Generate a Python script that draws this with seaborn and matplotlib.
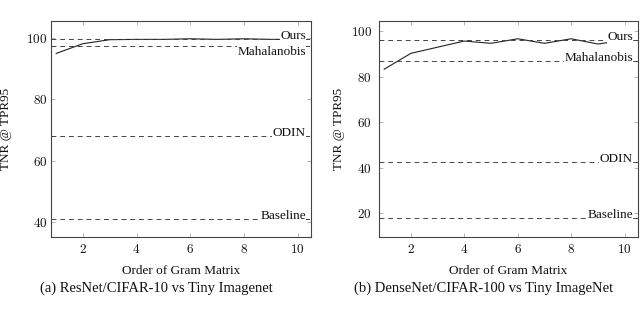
import numpy as np
import pandas as pd
import seaborn as sns
import matplotlib
matplotlib.use("Agg")
import matplotlib.pyplot as plt
import matplotlib.transforms as mtransforms

# gram matrix order on the x axis
orders = [1, 2, 3, 4, 5, 6, 7, 8, 9, 10]

# (a) ResNet / CIFAR-10 vs Tiny Imagenet
resnet_ours = [95.0, 98.2, 99.5, 99.6, 99.6, 99.8, 99.6, 99.8, 99.6, 99.6]
resnet_refs = {"Ours": 99.7, "Mahalanobis": 97.4, "ODIN": 68.0, "Baseline": 41.1}

# (b) DenseNet / CIFAR-100 vs Tiny ImageNet
densenet_ours = [83.2, 90.2, 92.9, 95.6, 94.6, 96.6, 94.6, 96.6, 94.3, 96.0]
densenet_refs = {"Ours": 96.0, "Mahalanobis": 86.7, "ODIN": 42.5, "Baseline": 17.8}

captions = ["(a) ResNet/CIFAR-10 vs Tiny Imagenet",
            "(b) DenseNet/CIFAR-100 vs Tiny ImageNet"]

sns.set_theme(style="white")
plt.rcParams['font.family'] = ['Liberation Serif', 'DejaVu Serif']
plt.rcParams['axes.formatter.use_mathtext'] = True

FS = 9.5
fig = plt.figure(figsize=(6.4, 3.13), dpi=100)

panels = [
    dict(rect=[51 / 640, 76 / 313, 260 / 640, 216 / 313], y=resnet_ours, refs=resnet_refs,
         ylim=(35.1, 105.6), yticks=[40, 60, 80, 100], below=["Mahalanobis"],
         labx=-0.15, pad=2.5, capx=156.5 / 640),
    dict(rect=[379 / 640, 76 / 313, 259 / 640, 216 / 313], y=densenet_ours, refs=densenet_refs,
         ylim=(9.6, 104.4), yticks=[20, 40, 60, 80, 100], below=[],
         labx=-0.131, pad=5, capx=484 / 640),
]

for p, cap in zip(panels, captions):
    ax = fig.add_axes(p["rect"])
    df = pd.DataFrame({"order": orders, "tnr": p["y"]})
    sns.lineplot(data=df, x="order", y="tnr", ax=ax, color="#222222", linewidth=0.8)

    trans = mtransforms.blended_transform_factory(ax.transAxes, ax.transData)
    for name, val in p["refs"].items():
        ax.axhline(val, color="#444444", linewidth=0.7, linestyle=(0, (5, 4)))
        va = "top" if name in p["below"] else "baseline"
        ax.text(0.98, val, name, transform=trans, ha="right", va=va, fontsize=FS,
                color="#111111",
                bbox=dict(facecolor="white", edgecolor="none", pad=0.3))

    ax.set_xlim(0.81, 10.5)
    ax.set_ylim(*p["ylim"])
    ax.set_xticks([2, 4, 6, 8, 10])
    ax.set_yticks(p["yticks"])
    ax.tick_params(direction="in", length=3, width=0.5, color="#999999",
                   top=True, right=True, bottom=True, left=True,
                   labelsize=FS, labelcolor="#111111")
    ax.tick_params(axis="y", pad=p["pad"])
    ax.tick_params(axis="x", pad=4)
    for lab in ax.get_xticklabels() + ax.get_yticklabels():
        lab.set_fontfamily(["cmr10", "DejaVu Serif"])
        lab.set_fontsize(FS)
    for s in ax.spines.values():
        s.set_color("#444444")
        s.set_linewidth(0.8)
    ax.set_xlabel("Order of Gram Matrix", fontsize=FS, color="#111111")
    ax.set_ylabel("TNR @ TPR95", fontsize=FS, color="#111111")
    ax.xaxis.set_label_coords(0.5, -0.13)
    ax.yaxis.set_label_coords(p["labx"], 0.5)

    fig.text(p["capx"], 0.079, cap, ha="center", va="center", fontsize=10.5,
             color="#111111")

fig.savefig("out.png", dpi=100)
